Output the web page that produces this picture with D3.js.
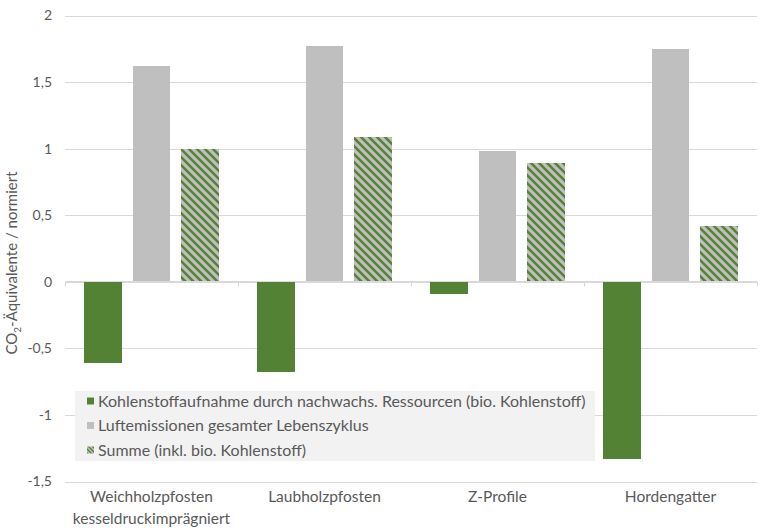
<!DOCTYPE html>
<html><head><meta charset="utf-8">
<script src="https://cdn.jsdelivr.net/npm/d3@7"></script>
<style>body{margin:0;background:#fff}svg{display:block}</style>
</head><body>
<svg id="c" width="769" height="532"></svg>
<script>
const categories = [["Weichholzpfosten","kesseldruckimprägniert"],["Laubholzpfosten"],["Z-Profile"],["Hordengatter"]];
const seriesNames = ["Kohlenstoffaufnahme durch nachwachs. Ressourcen (bio. Kohlenstoff)","Luftemissionen gesamter Lebenszyklus","Summe (inkl. bio. Kohlenstoff)"];
const kohlenstoff = [-0.61, -0.68, -0.09, -1.33];
const luftemissionen = [1.62, 1.77, 0.98, 1.75];
const summe = [1.00, 1.09, 0.89, 0.42];
const yTicks = [-1.5, -1, -0.5, 0, 0.5, 1, 1.5, 2];

const svg = d3.select("#c");
const FONT = "Lato, 'Open Sans', sans-serif";
const TXT = "#595959";
const GREEN = "#548235", GRAY = "#BFBFBF", GRID = "#D9D9D9";

const x0 = d3.scaleBand().domain(d3.range(categories.length)).range([65, 757]).paddingInner(0).paddingOuter(0);
const x1 = d3.scaleBand().domain(d3.range(3)).range([0, x0.bandwidth()]).paddingInner(0.2245).paddingOuter(0.388);
const y = d3.scaleLinear().domain([-1.5, 2]).range([481.5, 15.5]);

// hatch pattern
const defs = svg.append("defs");
const pat = defs.append("pattern").attr("id","hatch").attr("patternUnits","userSpaceOnUse")
  .attr("width",8).attr("height",8);
pat.append("rect").attr("width",8).attr("height",8).attr("fill",GRAY);
pat.append("path").attr("d","M-2,-2L10,10M-2,6L2,10M6,-2L10,2").attr("stroke",GREEN).attr("stroke-width",2.5);
const pat2 = defs.append("pattern").attr("id","hatchS").attr("patternUnits","userSpaceOnUse")
  .attr("width",4).attr("height",4);
pat2.append("rect").attr("width",4).attr("height",4).attr("fill",GRAY);
pat2.append("path").attr("d","M-1,-1L5,5M-1,3L1,5M3,-1L5,1").attr("stroke",GREEN).attr("stroke-width",1.3);

// gridlines
const yAxis = d3.axisLeft(y).tickValues(yTicks).tickSize(-(757-65)).tickPadding(13)
  .tickFormat(d => d3.format("")(d).replace(".", ",").replace("−", "-"));
const ga = svg.append("g").attr("transform","translate(65,0)").call(yAxis);
ga.select(".domain").remove();
ga.selectAll(".tick line").attr("stroke",GRID).attr("shape-rendering","crispEdges");
ga.selectAll(".tick text").attr("fill",TXT).attr("font-family",FONT).attr("font-size","14px");

// bars
const series = [
  {name: seriesNames[0], values: kohlenstoff, fill: GREEN},
  {name: seriesNames[1], values: luftemissionen, fill: GRAY},
  {name: seriesNames[2], values: summe, fill: "url(#hatch)"}
];
series.forEach((s, si) => {
  svg.append("g").selectAll("rect").data(s.values).join("rect")
    .attr("x", (d,i) => x0(i) + x1(si))
    .attr("width", x1.bandwidth())
    .attr("y", d => y(Math.max(0,d)))
    .attr("height", d => Math.abs(y(d) - y(0)))
    .attr("fill", s.fill)
    .attr("shape-rendering","crispEdges");
});

// x axis at zero
const gx = svg.append("g").attr("transform",`translate(0,${y(0)})`);
gx.append("line").attr("x1",65).attr("x2",757).attr("stroke",GRID).attr("shape-rendering","crispEdges");
const bounds = d3.range(categories.length+1).map(i => i < categories.length ? x0(i) : x0(i-1)+x0.bandwidth());
gx.selectAll("line.t").data(bounds).join("line").attr("class","t")
  .attr("x1",d=>Math.round(d)+0.5).attr("x2",d=>Math.round(d)+0.5).attr("y1",0).attr("y2",5)
  .attr("stroke",GRID);

// category labels
const cl = svg.append("g");
categories.forEach((lines, i) => {
  const t = cl.append("text").attr("text-anchor","middle").attr("fill",TXT)
    .attr("font-family",FONT).attr("font-size","15.5px");
  lines.forEach((ln, j) => {
    t.append("tspan").attr("x", x0(i) + x0.bandwidth()/2).attr("y", 502 + j*22).text(ln);
  });
});

// y label
const yl = svg.append("text").attr("transform","translate(17,263) rotate(-90)")
  .attr("text-anchor","middle").attr("fill",TXT).attr("font-family",FONT).attr("font-size","15px");
yl.append("tspan").text("CO");
yl.append("tspan").attr("font-size","10px").attr("dy",4).text("2");
yl.append("tspan").attr("dy",-4).text("-Äquivalente / normiert");

// legend
const lg = svg.append("g");
lg.append("rect").attr("x",75).attr("y",391).attr("width",520).attr("height",70).attr("fill","#F2F2F2");
const swFill = [GREEN, GRAY, "url(#hatchS)"];
const rows = lg.selectAll("g.r").data(series).join("g").attr("class","r")
  .attr("transform",(d,i)=>`translate(0,${401 + i*24.5})`);
rows.append("rect").attr("x",87).attr("y",-3.5).attr("width",7).attr("height",7).attr("fill",(d,i)=>swFill[i]);
const lt = rows.append("text").attr("x",98).attr("y",0).attr("dy","0.35em").attr("fill",TXT)
  .attr("font-family",FONT).attr("font-size","15px").text(d=>d.name);
const w0 = lt.nodes()[0].getComputedTextLength();
const fs = 15 * 488 / w0;
lt.attr("font-size", fs + "px");
</script>
</body></html>
